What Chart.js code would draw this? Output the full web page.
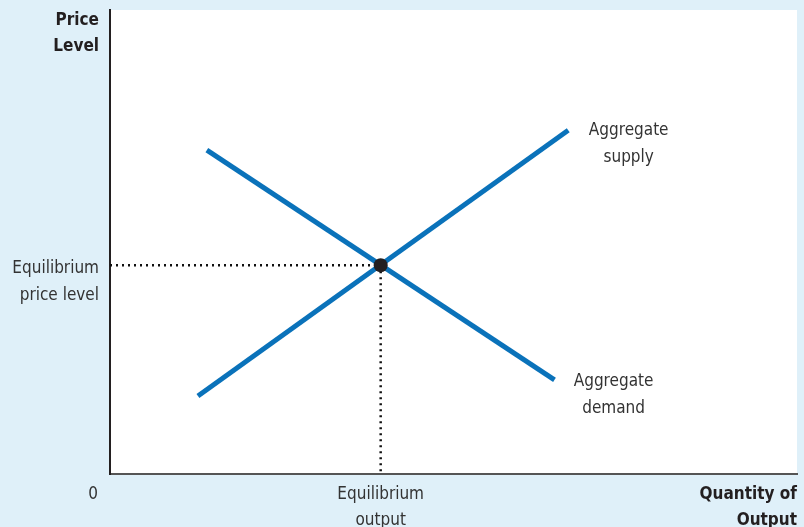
<!DOCTYPE html>
<html>
<head>
<meta charset="utf-8">
<script src="https://cdn.jsdelivr.net/npm/chart.js@4"></script>
<style>
  html, body { margin: 0; padding: 0; background: #dff0f9; }
  #wrap { width: 804px; height: 527px; }
</style>
</head>
<body>
<div id="wrap"><canvas id="adas"></canvas></div>
<script>
// curve end points (axis units 0..10)
const supplyX = [1.28, 6.67];
const supplyY = [1.68, 7.41];
const demandX = [1.41, 6.47];
const demandY = [6.98, 2.03];
// equilibrium
const eqX = 3.94;
const eqY = 4.5;

// text
const yTitle = ["Price", "Level"];
const xTitle = ["Quantity of", "Output"];
const eqPriceLabel = ["Equilibrium", "price level"];
const eqOutputLabel = ["Equilibrium", "output"];
const originLabel = "0";
const supplyLabel = ["Aggregate", "supply"];
const demandLabel = ["Aggregate", "demand"];
const supplyLabelPos = [7.55, 7.4];
const demandLabelPos = [7.33, 1.99];

const FONT = "'Liberation Sans Narrow', 'DejaVu Sans Condensed', sans-serif";
const BLUE = "#0a72ba";
const INK = "#231f20";

const toPts = (xs, ys) => xs.map((x, i) => ({ x: x, y: ys[i] }));

// white plot background + all the text labels
const annot = {
  id: "annot",
  beforeDraw(c) {
    const a = c.chartArea, ctx = c.ctx;
    ctx.save();
    ctx.fillStyle = "#ffffff";
    ctx.fillRect(a.left, a.top, a.right - a.left, a.bottom - a.top);
    ctx.restore();
  },
  afterDraw(c) {
    const ctx = c.ctx, a = c.chartArea;
    const xs = c.scales.x, ys = c.scales.y;
    ctx.save();
    ctx.textBaseline = "middle";
    ctx.fillStyle = INK;

    ctx.font = "bold 17px " + FONT;
    ctx.textAlign = "right";
    ctx.fillText(yTitle[0], a.left - 11, 21);
    ctx.fillText(yTitle[1], a.left - 11, 47);
    ctx.fillText(xTitle[0], a.right, a.bottom + 21);
    ctx.fillText(xTitle[1], a.right, a.bottom + 47);

    ctx.fillStyle = "#333333";
    ctx.font = "17px " + FONT;
    const py = ys.getPixelForValue(eqY);
    ctx.fillText(eqPriceLabel[0], a.left - 11, py + 3);
    ctx.fillText(eqPriceLabel[1], a.left - 11, py + 30);
    ctx.fillText(originLabel, a.left - 12, a.bottom + 21);

    ctx.textAlign = "center";
    const px = xs.getPixelForValue(eqX);
    ctx.fillText(eqOutputLabel[0], px, a.bottom + 21);
    ctx.fillText(eqOutputLabel[1], px, a.bottom + 47);

    let lx = xs.getPixelForValue(supplyLabelPos[0]), ly = ys.getPixelForValue(supplyLabelPos[1]);
    ctx.fillText(supplyLabel[0], lx, ly);
    ctx.fillText(supplyLabel[1], lx, ly + 27);
    lx = xs.getPixelForValue(demandLabelPos[0]); ly = ys.getPixelForValue(demandLabelPos[1]);
    ctx.fillText(demandLabel[0], lx, ly);
    ctx.fillText(demandLabel[1], lx, ly + 27);
    ctx.restore();
  }
};

new Chart(document.getElementById("adas"), {
  type: "scatter",
  data: {
    datasets: [
      {
        label: "Equilibrium",
        data: [{ x: eqX, y: eqY }],
        pointRadius: 7,
        pointBackgroundColor: INK,
        pointBorderColor: INK,
        borderWidth: 0
      },
      {
        label: "Aggregate supply",
        data: toPts(supplyX, supplyY),
        showLine: true,
        borderColor: BLUE,
        borderWidth: 5,
        pointRadius: 0
      },
      {
        label: "Aggregate demand",
        data: toPts(demandX, demandY),
        showLine: true,
        borderColor: BLUE,
        borderWidth: 5,
        pointRadius: 0
      },
      {
        label: "guide price",
        data: toPts([0, eqX], [eqY, eqY]),
        showLine: true,
        borderColor: "#111",
        borderWidth: 2.5,
        borderDash: [2, 4],
        pointRadius: 0
      },
      {
        label: "guide output",
        data: toPts([eqX, eqX], [eqY, 0]),
        showLine: true,
        borderColor: "#111",
        borderWidth: 2.5,
        borderDash: [2, 4],
        pointRadius: 0
      }
    ]
  },
  options: {
    responsive: true,
    maintainAspectRatio: false,
    animation: false,
    layout: { padding: { left: 102, top: 10, right: 6, bottom: 45 } },
    plugins: { legend: { display: false }, tooltip: { enabled: false } },
    scales: {
      x: {
        min: 0, max: 10,
        ticks: { display: false },
        grid: { display: false },
        border: { display: true, color: "#555", width: 2 }
      },
      y: {
        min: 0, max: 10,
        ticks: { display: false },
        grid: { display: false },
        border: { display: true, color: INK, width: 2 }
      }
    }
  },
  plugins: [annot]
});
</script>
</body>
</html>
